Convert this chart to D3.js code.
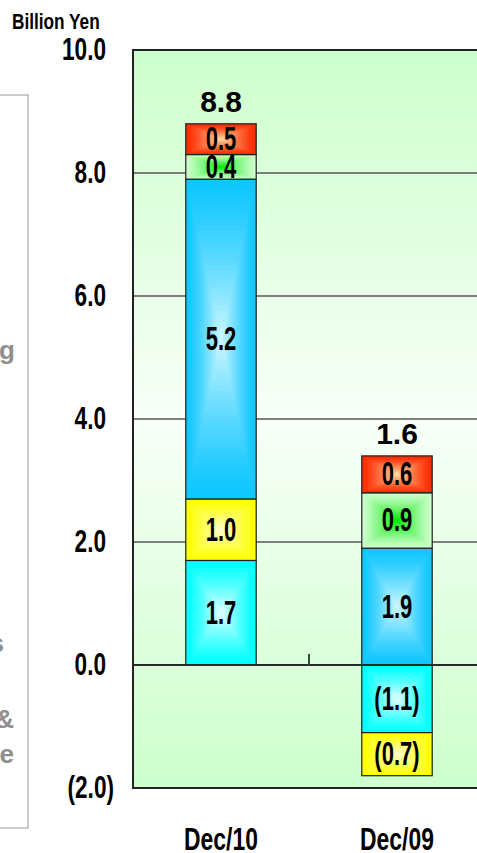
<!DOCTYPE html>
<html>
<head>
<meta charset="utf-8">
<script src="https://cdn.jsdelivr.net/npm/d3@7/dist/d3.min.js"></script>
<style>
  html, body { margin: 0; padding: 0; background: #fff; overflow: hidden; }
  svg { display: block; }
  text { font-family: "Liberation Sans", Arial, sans-serif; font-weight: bold; }
</style>
</head>
<body>
<svg id="chart" width="477" height="853"></svg>
<script>
// Period categories and stacked component values (billion yen)
const categories = ["Dec/10", "Dec/09"];
const seriesKeys = ["series1", "series2", "series3", "series4", "series5"];
const series1 = [1.7, -1.1];
const series2 = [1.0, -0.7];
const series3 = [5.2, 1.9];
const series4 = [0.4, 0.9];
const series5 = [0.5, 0.6];
const totals = [8.8, 1.6];
const yTicks = [-2, 0, 2, 4, 6, 8, 10];
const unitLabel = "Billion Yen";
const sideLabels = ["ng", "s", "&", "e"];

// Edge / centre colours of each segment's rectangular shading
const fills = {
  series1: ["#00ffff", "#eaffff"],
  series2: ["#ffff00", "#ffffd8"],
  series3: ["#0fc6ff", "#d2f8ff"],
  series4: ["#ccffcc", "#00e600"],
  series5: ["#ff2a00", "#ffe2a8"]
};

const rows = categories.map((c, i) => ({
  category: c,
  series1: series1[i], series2: series2[i], series3: series3[i],
  series4: series4[i], series5: series5[i], total: totals[i]
}));

const svg = d3.select("#chart");
const plot = { left: 133, right: 485, top: 50, bottom: 788 };

const x = d3.scaleBand().domain(categories).range([plot.left, plot.right]);
const y = d3.scaleLinear().domain([-2, 10]).range([plot.bottom, plot.top]);
const barW = x.bandwidth() * 0.4;

const fmt = v => v < 0 ? "(" + Math.abs(v).toFixed(1) + ")" : v.toFixed(1);

// condensed bold text: plain bold face squeezed horizontally (and slightly stretched)
function narrowText(sel, px, py, str, size, anchor, sx, sy) {
  const g = sel.append("g")
    .attr("transform", `translate(${px},${py}) scale(${sx || 0.8},${sy || 1})`);
  return g.append("text").attr("text-anchor", anchor).attr("font-size", size).text(str);
}

const defs = svg.append("defs");
const bg = defs.append("linearGradient").attr("id", "plotBg")
  .attr("x1", 0).attr("y1", 0).attr("x2", 0).attr("y2", 1);
bg.append("stop").attr("offset", "0%").attr("stop-color", "#ccffcc");
bg.append("stop").attr("offset", "50%").attr("stop-color", "#f8fff8");
bg.append("stop").attr("offset", "100%").attr("stop-color", "#ccffcc");

// left legend frame (partially outside the view)
svg.append("rect").attr("x", -4).attr("y", 95).attr("width", 32).attr("height", 733)
  .attr("fill", "#fff").attr("stroke", "#a8a8a8").attr("stroke-width", 1.2);
const sideG = svg.append("g").attr("fill", "#8f8f8f").attr("font-size", 26);
const sidePos = [[15, 359], [4, 652], [14, 728], [14, 763]];
sideLabels.forEach((t, i) => {
  sideG.append("text").attr("x", sidePos[i][0]).attr("y", sidePos[i][1])
    .attr("text-anchor", "end").text(t);
});

// plot background
svg.append("rect").attr("x", plot.left).attr("y", plot.top)
  .attr("width", plot.right - plot.left).attr("height", plot.bottom - plot.top)
  .attr("fill", "url(#plotBg)");

// gridlines
svg.append("g").selectAll("line").data(yTicks.filter(v => v > -2 && v < 10 && v !== 0))
  .join("line")
  .attr("x1", plot.left).attr("x2", plot.right)
  .attr("y1", d => y(d)).attr("y2", d => y(d))
  .attr("stroke", "#575757").attr("stroke-width", 1.4);

// stacked bars
const stacked = d3.stack().keys(seriesKeys).offset(d3.stackOffsetDiverging)(rows);
const STEPS = 28;
const barsG = svg.append("g");
const labelsG = svg.append("g");
stacked.forEach(layer => {
  const [edge, centre] = fills[layer.key];
  const interp = d3.interpolateRgb(edge, centre);
  layer.forEach(seg => {
    const cat = seg.data.category;
    const x0 = x(cat) + (x.bandwidth() - barW) / 2;
    const yTop = y(Math.max(seg[0], seg[1]));
    const yBot = y(Math.min(seg[0], seg[1]));
    const h = yBot - yTop;
    if (h <= 0) return;
    const g = barsG.append("g");
    for (let i = 0; i < STEPS; i++) {
      const t = i / STEPS;
      const ix = t * barW / 2, iy = t * h / 2;
      g.append("rect")
        .attr("x", x0 + ix).attr("y", yTop + iy)
        .attr("width", Math.max(0, barW - 2 * ix)).attr("height", Math.max(0, h - 2 * iy))
        .attr("fill", interp(Math.pow(t, 1.3)));
    }
    g.append("rect").attr("x", x0).attr("y", yTop).attr("width", barW).attr("height", h)
      .attr("fill", "none").attr("stroke", "#1e1e1e").attr("stroke-width", 1.2);
    const v = seg.data[layer.key];
    narrowText(labelsG, x0 + barW / 2, (yTop + yBot) / 2 + 11, fmt(v), 29, "middle", 0.76, 1.12)
      .attr("fill", "#000");
  });
});

// totals above bars
rows.forEach(r => {
  const top = d3.max(stacked, layer => {
    const s = layer.find(d => d.data.category === r.category);
    return Math.max(s[0], s[1]);
  });
  svg.append("text").attr("x", x(r.category) + x.bandwidth() / 2).attr("y", y(top) - 12)
    .attr("text-anchor", "middle").attr("font-size", 30).attr("fill", "#000")
    .text(r.total.toFixed(1));
});

// zero line, plot frame and category separator tick
svg.append("line").attr("x1", plot.left).attr("x2", plot.right)
  .attr("y1", y(0)).attr("y2", y(0)).attr("stroke", "#2a2a2a").attr("stroke-width", 2);
categories.slice(1).forEach(c => {
  svg.append("line").attr("x1", x(c)).attr("x2", x(c))
    .attr("y1", y(0)).attr("y2", y(0) - 11).attr("stroke", "#3a4a3a").attr("stroke-width", 2);
});
svg.append("path")
  .attr("d", `M${plot.right},${plot.top}H${plot.left}V${plot.bottom}H${plot.right}`)
  .attr("fill", "none").attr("stroke", "#222").attr("stroke-width", 2);

// y tick labels
yTicks.forEach(v => {
  const xr = v < 0 ? 114 : 106;
  narrowText(svg, xr, y(v) + 10, fmt(v), 29, "end", 0.78, 1.08).attr("fill", "#000");
});

// unit label
narrowText(svg, 12, 29, unitLabel, 21, "start", 0.82, 1.02).attr("fill", "#000");

// category labels
categories.forEach(c => {
  narrowText(svg, x(c) + x.bandwidth() / 2, 850, c, 29, "middle", 0.79, 1.08).attr("fill", "#000");
});
</script>
</body>
</html>
